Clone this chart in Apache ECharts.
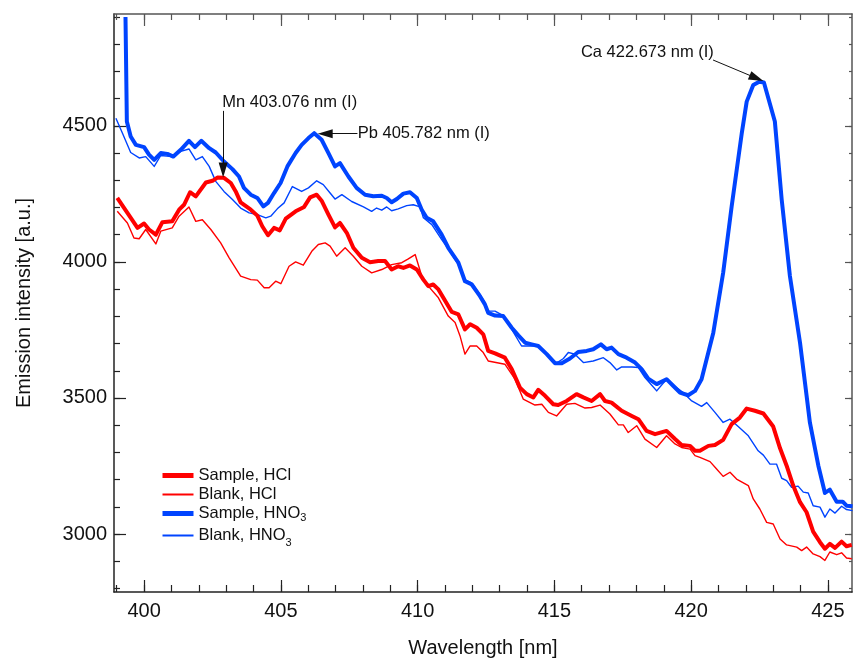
<!DOCTYPE html>
<html>
<head>
<meta charset="utf-8">
<script src="https://cdn.jsdelivr.net/npm/echarts@6/dist/echarts.min.js"></script>
<style>
html,body{margin:0;padding:0;background:#fff;}
#chart{width:853px;height:663px;}
</style>
</head>
<body>
<div id="chart"></div>
<script>
// ---- data ----
var seriesNames = ['Sample, HCl', 'Blank, HCl', 'Sample, HNO3', 'Blank, HNO3'];

var sampleHClX = [399.02,399.39,399.76,400.00,400.18,400.43,400.67,401.03,401.28,401.46,401.68,401.89,402.26,402.50,402.68,402.92,403.17,403.35,403.53,403.90,404.14,404.32,404.53,404.75,404.96,405.18,405.54,405.85,406.07,406.31,406.49,406.74,406.98,407.16,407.41,407.65,407.96,408.26,408.56,408.81,409.05,409.29,409.48,409.72,409.97,410.21,410.39,410.57,410.76,410.94,411.25,411.49,411.73,411.92,412.16,412.40,412.58,412.83,413.19,413.44,413.74,413.99,414.23,414.41,414.66,414.96,415.14,415.45,415.81,416.06,416.36,416.67,416.85,417.09,417.46,417.83,418.07,418.37,418.68,419.10,419.41,419.65,419.96,420.14,420.32,420.63,420.87,421.17,421.48,421.78,422.03,422.33,422.64,423.00,423.25,423.49,423.73,423.98,424.22,424.46,424.71,424.89,425.07,425.26,425.50,425.68,425.87];
var sampleHClY = [4235,4180,4125,4141,4119,4100,4146,4149,4192,4210,4256,4241,4292,4298,4310,4309,4290,4259,4219,4192,4170,4131,4098,4125,4116,4159,4186,4202,4237,4247,4225,4174,4127,4143,4107,4052,4015,3999,4003,4003,3972,3984,3978,3987,3972,3935,3911,3917,3899,3868,3816,3807,3752,3771,3758,3734,3673,3664,3648,3606,3538,3514,3502,3530,3508,3477,3474,3489,3514,3502,3489,3514,3489,3483,3453,3434,3422,3379,3367,3379,3349,3327,3324,3306,3306,3324,3327,3346,3404,3428,3461,3453,3443,3395,3315,3251,3178,3117,3080,3009,2970,2946,2964,2949,2972,2955,2960];

var blankHClX = [399.02,399.39,399.63,399.82,400.06,400.43,400.61,401.03,401.28,401.64,401.89,402.13,402.44,402.80,403.11,403.53,403.90,404.14,404.39,404.57,404.81,405.00,405.30,405.54,405.82,406.13,406.37,406.62,406.80,407.04,407.35,407.65,407.96,408.32,408.69,409.05,409.42,409.66,409.91,410.15,410.39,410.76,411.12,411.37,411.55,411.73,411.92,412.16,412.40,412.58,413.19,413.56,413.86,414.29,414.54,414.78,415.08,415.45,415.75,416.12,416.36,416.67,417.03,417.34,417.52,417.70,418.01,418.31,418.74,419.10,419.41,419.65,419.96,420.14,420.32,420.69,420.93,421.17,421.42,421.66,422.09,422.27,422.51,422.76,423.00,423.25,423.49,423.86,424.04,424.22,424.46,424.71,424.89,425.07,425.32,425.50,425.68,425.87];
var blankHClY = [4186,4143,4088,4085,4119,4066,4113,4125,4168,4202,4149,4155,4119,4070,4015,3948,3935,3933,3905,3905,3929,3920,3984,4000,3988,4039,4064,4070,4058,4021,4052,4021,3984,3960,3972,3990,3997,4011,4027,3948,3911,3868,3801,3777,3728,3661,3691,3691,3667,3636,3624,3569,3496,3474,3477,3447,3434,3477,3480,3463,3465,3474,3441,3401,3401,3373,3398,3349,3318,3361,3331,3318,3312,3288,3282,3266,3239,3212,3227,3202,3178,3129,3092,3043,3037,2982,2960,2952,2939,2952,2927,2917,2903,2934,2924,2931,2912,2909];

var sampleHNO3X = [399.32,399.37,399.51,399.70,400.00,400.18,400.37,400.61,400.85,401.07,401.34,401.64,401.86,402.09,402.38,402.62,402.92,403.23,403.47,403.65,403.90,404.14,404.36,404.53,404.75,404.99,405.24,405.54,405.76,406.01,406.22,406.49,406.74,406.98,407.16,407.47,407.77,408.08,408.38,408.69,408.87,409.05,409.24,409.48,409.72,409.97,410.15,410.33,410.57,410.88,411.12,411.49,411.73,411.98,412.28,412.46,412.58,412.83,413.13,413.44,413.68,413.93,414.17,414.41,414.72,415.02,415.27,415.57,415.87,416.18,416.42,416.70,416.91,417.09,417.34,417.64,417.95,418.19,418.43,418.74,419.10,419.35,419.59,419.89,420.14,420.38,420.81,421.17,421.48,421.85,422.03,422.27,422.49,422.66,423.06,423.31,423.61,423.98,424.22,424.34,424.65,424.89,425.07,425.32,425.54,425.68,425.90];
var sampleHNO3Y = [4900,4516,4461,4430,4422,4394,4375,4400,4397,4387,4412,4445,4422,4445,4418,4402,4369,4341,4314,4272,4247,4235,4204,4217,4253,4290,4351,4400,4430,4455,4473,4449,4400,4351,4363,4314,4272,4247,4241,4243,4235,4219,4231,4251,4256,4235,4192,4162,4149,4100,4052,3997,3929,3917,3874,3844,3813,3803,3801,3758,3730,3703,3697,3691,3661,3628,3628,3645,3669,3673,3679,3697,3679,3685,3661,3648,3630,3606,3571,3551,3569,3544,3520,3510,3526,3569,3740,3960,4204,4473,4589,4650,4662,4659,4516,4229,3948,3703,3508,3410,3251,3151,3163,3119,3119,3104,3102];

var blankHNO3X = [398.97,399.21,399.51,399.82,400.06,400.37,400.61,401.03,401.34,401.64,401.89,402.13,402.38,402.62,402.92,403.23,403.53,403.84,404.14,404.45,404.63,404.87,405.12,405.42,405.76,406.01,406.31,406.55,406.80,406.98,407.23,407.59,408.02,408.32,408.50,408.69,408.87,409.05,409.29,409.60,409.84,410.09,410.21,410.52,410.88,411.12,411.49,411.73,411.98,412.28,412.46,412.58,412.83,413.13,413.44,413.80,414.11,414.41,414.72,415.08,415.33,415.51,415.75,416.06,416.42,416.79,417.03,417.28,417.46,417.83,418.07,418.31,418.56,418.74,419.10,419.41,419.71,420.02,420.38,420.57,420.87,421.17,421.42,421.72,422.09,422.45,422.64,422.88,423.12,423.31,423.49,423.67,423.91,424.10,424.28,424.46,424.71,424.89,425.07,425.26,425.50,425.68,425.90];
var blankHNO3Y = [4528,4473,4402,4382,4387,4351,4391,4387,4406,4415,4375,4387,4351,4296,4259,4229,4198,4180,4174,4162,4168,4195,4217,4277,4259,4272,4298,4284,4253,4231,4247,4222,4202,4186,4198,4190,4202,4188,4195,4207,4210,4202,4162,4137,4082,4048,3990,3935,3923,3880,3850,3819,3819,3803,3752,3691,3691,3691,3661,3628,3645,3667,3661,3630,3636,3648,3630,3603,3614,3614,3612,3575,3547,3526,3569,3542,3520,3489,3469,3483,3447,3410,3422,3395,3361,3306,3290,3257,3257,3205,3196,3172,3176,3154,3151,3104,3099,3062,3092,3077,3102,3090,3086];

var xMajorTicks = [400, 405, 410, 415, 420, 425];
var xMinorTicks = [399,400,401,402,403,404,405,406,407,408,409,410,411,412,413,414,415,416,417,418,419,420,421,422,423,424,425];
var yMajorTicks = [3000, 3500, 4000, 4500];
var yMinorTicks = [2800,2900,3000,3100,3200,3300,3400,3500,3600,3700,3800,3900,4000,4100,4200,4300,4400,4500,4600,4700,4800,4900];

var lineLabels = ['Mn 403.076 nm (I)', 'Pb 405.782 nm (I)', 'Ca 422.673 nm (I)'];

// ---- chart ----
var FONT = 'Liberation Sans, Arial, Helvetica, sans-serif';
var RED = '#ff0000';
var BLUE = '#0044ff';
var X_MIN = 398.9, X_MAX = 425.88, Y_MIN = 2787, Y_MAX = 4911;
var seriesWidths = [4, 1.4, 4, 1.4];
var legendWidths = [5, 2, 5, 2];
var seriesColors = [RED, RED, BLUE, BLUE];

function pairs(xs, ys) { return xs.map(function (x, i) { return [x, ys[i]]; }); }
function plain(v) { return String(v); }

function xAxisDef(pos, ticks, len, color, main) {
  return {
    type: 'value', position: pos, min: X_MIN, max: X_MAX, gridIndex: 0,
    axisLine: { show: main !== null, onZero: false, lineStyle: { color: color, width: 1.5 } },
    axisTick: { show: true, inside: true, length: len, customValues: ticks, lineStyle: { color: color, width: 1.2 } },
    axisLabel: main ? { show: true, customValues: xMajorTicks, formatter: plain, fontSize: 20, fontFamily: FONT, color: '#111', margin: 9 } : { show: false },
    splitLine: { show: false },
    name: main ? 'Wavelength [nm]' : '', nameLocation: 'middle', nameGap: 46,
    nameTextStyle: { fontSize: 20, fontFamily: FONT, color: '#111' }
  };
}
function yAxisDef(pos, ticks, len, color, main) {
  return {
    type: 'value', position: pos, min: Y_MIN, max: Y_MAX, gridIndex: 0,
    axisLine: { show: main !== null, onZero: false, lineStyle: { color: color, width: 1.5 } },
    axisTick: { show: true, inside: true, length: len, customValues: ticks, lineStyle: { color: color, width: 1.2 } },
    axisLabel: main ? { show: true, customValues: yMajorTicks, formatter: plain, fontSize: 20, fontFamily: FONT, color: '#111', margin: 7 } : { show: false },
    splitLine: { show: false },
    name: main ? 'Emission intensity [a.u.]' : '', nameLocation: 'middle', nameGap: 80, nameRotate: 90,
    nameTextStyle: { fontSize: 20, fontFamily: FONT, color: '#111' }
  };
}

var chart = echarts.init(document.getElementById('chart'), null, { renderer: 'canvas' });

var annFont = { fontSize: 16.5, fontFamily: FONT, color: '#111' };

var legendData = seriesNames.map(function (n, i) {
  var item = { name: n, lineStyle: { width: legendWidths[i], color: seriesColors[i] } };
  if (i === 3) { item.textStyle = { lineHeight: 25 }; }
  return item;
});

var option = {
  animation: false,
  backgroundColor: '#ffffff',
  grid: { left: 114, right: 1, top: 14, bottom: 70, containLabel: false },
  xAxis: [
    xAxisDef('bottom', xMajorTicks, 12, '#222', true),
    xAxisDef('bottom', xMinorTicks, 7, '#222', null),
    xAxisDef('top', xMajorTicks, 12, '#555', false),
    xAxisDef('top', xMinorTicks, 6, '#555', null)
  ],
  yAxis: [
    yAxisDef('left', yMajorTicks, 12, '#222', true),
    yAxisDef('left', yMinorTicks, 6, '#222', null),
    yAxisDef('right', yMajorTicks, 7, '#555', false),
    yAxisDef('right', yMinorTicks, 3, '#555', null)
  ],
  legend: {
    show: true, orient: 'vertical', left: 155, top: 461,
    itemWidth: 31, itemHeight: 1, itemGap: 0,
    data: legendData,
    formatter: function (name) { return name.replace('HNO3', 'HNO{sub|3}'); },
    textStyle: {
      fontSize: 16.5, fontFamily: FONT, color: '#111', lineHeight: 19,
      rich: { sub: { fontSize: 11, fontFamily: FONT, color: '#111', lineHeight: 7, verticalAlign: 'bottom' } }
    },
    selectedMode: false
  },
  series: seriesNames.map(function (n, i) {
    var xs = [sampleHClX, blankHClX, sampleHNO3X, blankHNO3X][i];
    var ys = [sampleHClY, blankHClY, sampleHNO3Y, blankHNO3Y][i];
    var s = {
      name: n, type: 'line', xAxisIndex: 0, yAxisIndex: 0, z: [4, 2, 3, 2][i],
      data: pairs(xs, ys), showSymbol: false, symbol: 'none',
      lineStyle: { color: seriesColors[i], width: seriesWidths[i], join: 'round' },
      itemStyle: { color: seriesColors[i] }
    };
    if (i === 2) {
      s.markLine = {
        silent: true, animation: false,
        lineStyle: { color: '#111', width: 1, type: 'solid' },
        label: { show: false },
        data: [
          [{ coord: [402.89, 4555], symbol: 'none' }, { coord: [402.89, 4338], symbol: 'triangle', symbolSize: [9, 15] }],
          [{ coord: [407.80, 4471], symbol: 'none' }, { coord: [406.62, 4471], symbol: 'triangle', symbolSize: [9, 15] }],
          [{ coord: [420.80, 4742], symbol: 'none' }, { coord: [422.39, 4675], symbol: 'triangle', symbolSize: [9, 15] }]
        ]
      };
      s.markPoint = {
        silent: true, animation: false, symbol: 'circle', symbolSize: 0,
        itemStyle: { color: 'rgba(0,0,0,0)' },
        data: [
          { coord: [402.86, 4585], label: Object.assign({ show: true, position: 'right', distance: 0, formatter: lineLabels[0] }, annFont) },
          { coord: [407.81, 4471], label: Object.assign({ show: true, position: 'right', distance: 0, formatter: lineLabels[1] }, annFont) },
          { coord: [420.83, 4770], label: Object.assign({ show: true, position: 'left', distance: 0, formatter: lineLabels[2] }, annFont) }
        ]
      };
    }
    return s;
  })
};
chart.setOption(option);
</script>
</body>
</html>
